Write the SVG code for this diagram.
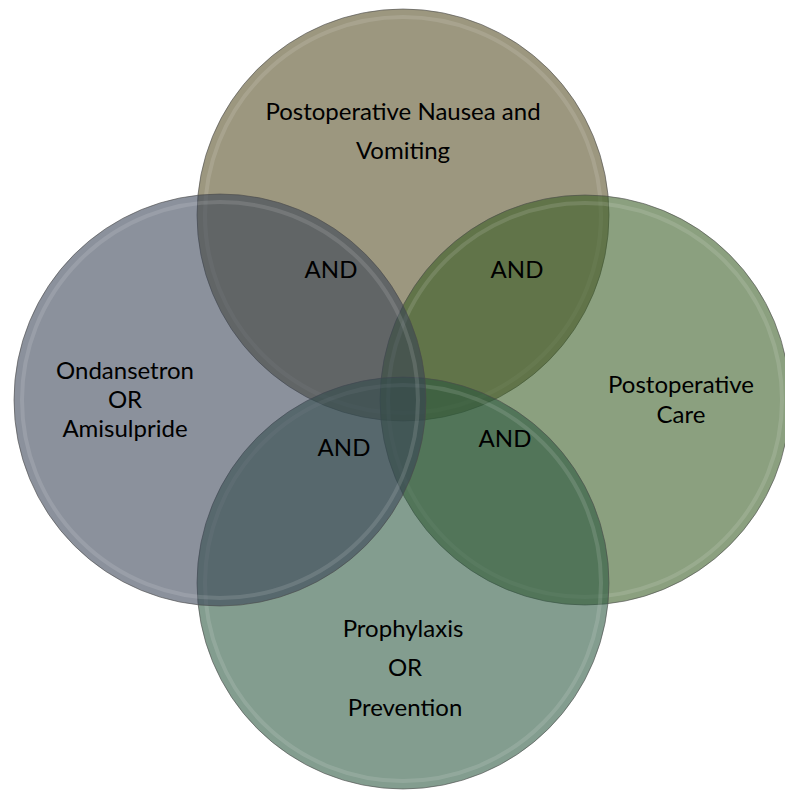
<svg xmlns="http://www.w3.org/2000/svg" width="785" height="797" viewBox="0 0 785 797">
<style>
.c{fill-opacity:0.58;stroke:#4a4a4a;stroke-opacity:0.6;stroke-width:1}
.rim{fill:none;stroke:#ffffff;stroke-opacity:0.12;stroke-width:4}
text{font-family:Lato,"Liberation Sans",sans-serif;font-size:24px;fill:#000;text-anchor:middle}
</style>
<rect width="785" height="797" fill="#ffffff"/>
<g id="top">
<circle class="c" cx="403" cy="215" r="206" fill="#544c22"/>
<circle class="rim" cx="403" cy="215" r="198"/>
</g>
<g id="right">
<circle class="c" cx="585" cy="400" r="205" fill="#375b22"/>
<circle class="rim" cx="585" cy="400" r="197"/>
</g>
<g id="bottom">
<circle class="c" cx="403" cy="583" r="206" fill="#29563e"/>
<circle class="rim" cx="403" cy="583" r="198"/>
</g>
<g id="left">
<circle class="c" cx="220" cy="400" r="206" fill="#374154"/>
<circle class="rim" cx="220" cy="400" r="198"/>
</g>
<g id="labels">
<text x="403" y="120">Postoperative Nausea and</text>
<text x="403" y="159">Vomiting</text>
<text x="125" y="379">Ondansetron</text>
<text x="125" y="408">OR</text>
<text x="125" y="437">Amisulpride</text>
<text x="681" y="393">Postoperative</text>
<text x="681" y="423">Care</text>
<text x="403" y="637">Prophylaxis</text>
<text x="405" y="676">OR</text>
<text x="405" y="716">Prevention</text>
<text x="331" y="278">AND</text>
<text x="517" y="278">AND</text>
<text x="344" y="456">AND</text>
<text x="505" y="447">AND</text>
</g>
</svg>
